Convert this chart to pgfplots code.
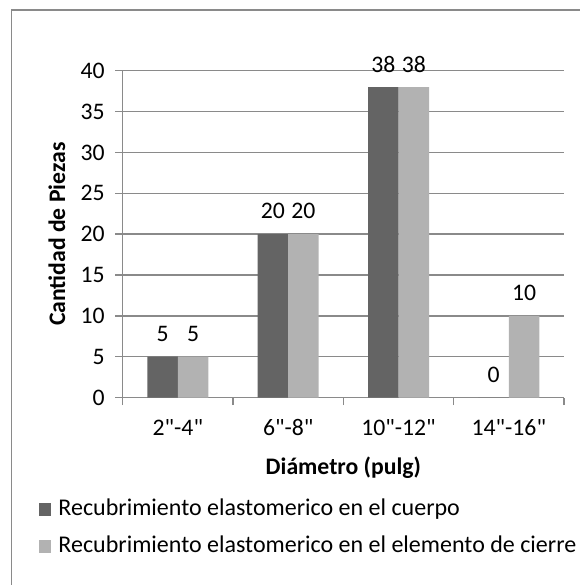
\documentclass[border=0pt]{standalone}
\usepackage{pgfplots}
\pgfplotsset{compat=1.18}
\usepackage{fontspec}
\setmainfont{Carlito}[Ligatures=TeXOff]
\definecolor{darkbar}{HTML}{646464}
\definecolor{lightbar}{HTML}{B2B2B2}
\definecolor{gridc}{HTML}{8A8A8A}
\newcommand{\cf}{\fontsize{23.7}{28}\selectfont}
\newcommand{\lf}{\fontsize{24}{29}\selectfont}
\begin{document}
\begin{tikzpicture}
\path[use as bounding box] (0pt,0pt) rectangle (580pt,-585pt);
\draw[gridc, line width=1.5pt] (11.5pt,-585pt) -- (11.5pt,-10pt) -- (580pt,-10pt);
\begin{axis}[
  at={(122.7pt,-397.5pt)}, anchor=south west,
  scale only axis, width=441.3pt, height=326.8pt,
  ymin=0, ymax=40, ytick={0,5,...,40},
  xmin=-0.5, xmax=3.5, xtick={0,1,2,3},
  xticklabels={2"-4", 6"-8", 10"-12", 14"-16"},
  minor xtick={-0.5,0.5,1.5,2.5,3.5},
  axis x line*=bottom, axis y line*=left,
  axis line style={gridc, line width=1.5pt, -},
  ymajorgrids, grid style={gridc, line width=1.5pt},
  tick align=outside,
  major tick length=7.5pt, minor tick length=7.5pt,
  major x tick style={draw=none},
  minor x tick style={gridc, line width=1.5pt},
  ytick style={gridc, line width=1.5pt},
  tick label style={font=\cf},
  yticklabel style={xshift=-7pt},
  xticklabel style={yshift=-11pt},
  /pgf/number format/assume math mode=true,
  ybar=0pt, bar width=30.5pt,
  nodes near coords,
  every node near coord/.append style={font=\cf, anchor=center, yshift=23pt, text=black},
  xlabel={\bfseries Diámetro (pulg)},
  ylabel={\bfseries Cantidad de Piezas},
  label style={font=\cf},
  xlabel style={at={(axis description cs:0.5,-0.237)}, anchor=base},
  ylabel style={at={(axis description cs:-0.1307,0.5)}, anchor=base},
  legend image code/.code={\path[#1] (0pt,-6.5pt) rectangle (12pt,6.5pt);},
  legend style={at={(axis description cs:-0.189,-0.3075)}, anchor=north west,
    draw=none, fill=none, inner sep=0pt, font=\lf, row sep=15.5pt,
    nodes={inner sep=0pt, text height=17pt, text depth=5pt},
    /tikz/every odd column/.append style={column sep=7pt}},
  legend cell align=left,
]
\addplot[fill=darkbar, draw=none] coordinates {(0,5) (1,20) (2,38) (3,0)};
\addplot[fill=lightbar, draw=none] coordinates {(0,5) (1,20) (2,38) (3,10)};
\legend{Recubrimiento elastomerico en el cuerpo, Recubrimiento elastomerico en el elemento de cierre}
\end{axis}
\end{tikzpicture}
\end{document}
